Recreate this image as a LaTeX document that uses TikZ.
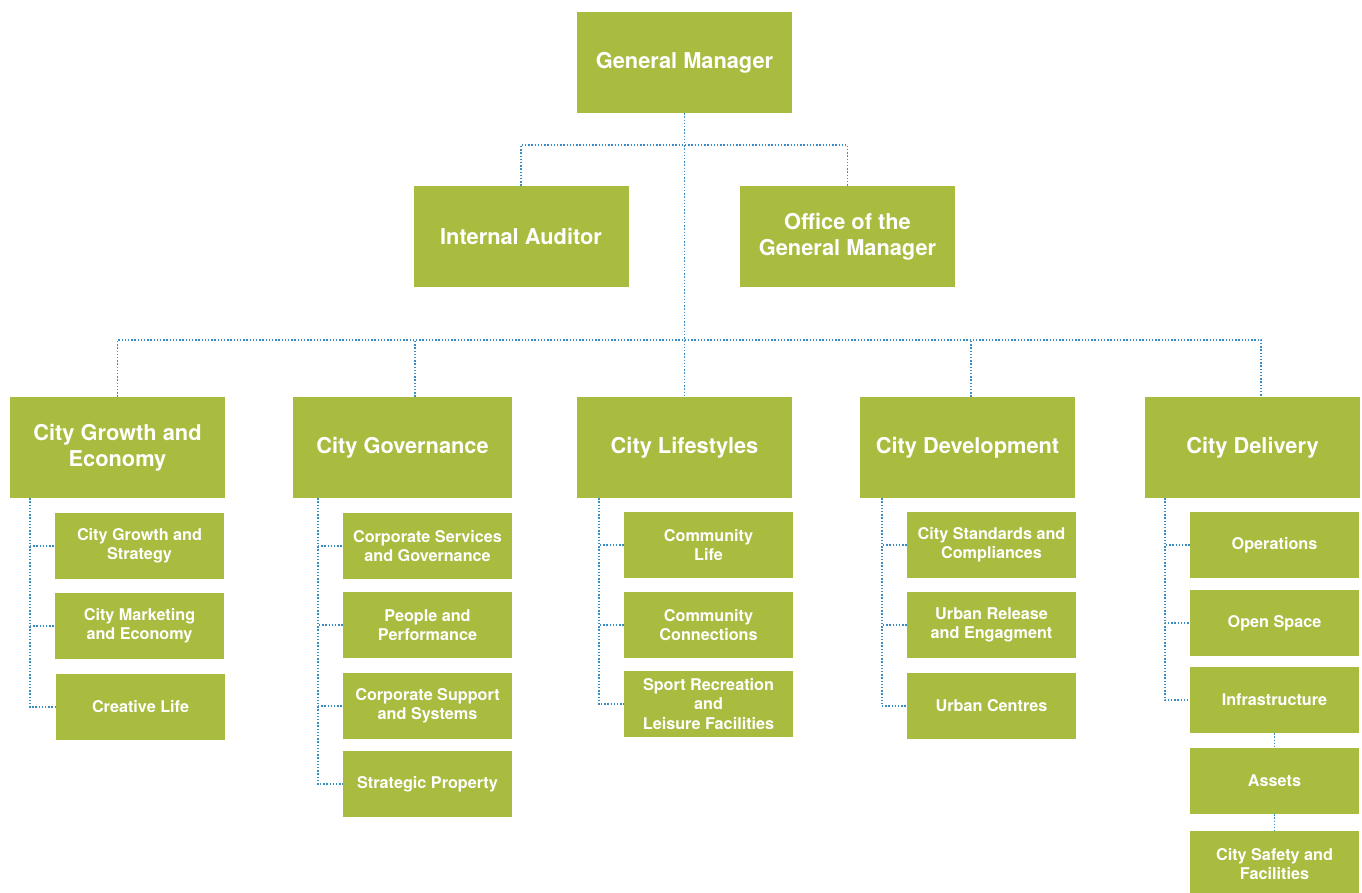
\documentclass[tikz,border=0pt]{standalone}
\usepackage{fontspec}
\setmainfont{TeX Gyre Heros}
\definecolor{leaf}{HTML}{A9BC40}
\definecolor{dotblue}{HTML}{3A8CC6}

\begin{document}
\begin{tikzpicture}[x=1pt,y=-1pt,
    bnode/.style={fill=leaf, text=white, align=center, inner sep=0pt, minimum width=215pt, minimum height=101pt, font=\bfseries\fontsize{21.8}{26}\selectfont},
    snode/.style={fill=leaf, text=white, align=center, inner sep=0pt, minimum width=169pt, minimum height=66pt, font=\bfseries\fontsize{16.2}{19.3}\selectfont},
    link/.style={draw=dotblue, line width=1.6pt, dash pattern=on 1.4pt off 1.8pt}]
    \useasboundingbox (0,0) rectangle (1362,892);

    % top of the chart
    \node[bnode] (gm) at (684.5,62.5) {General Manager};
    \node[bnode] (ia) at (521,236.5) {Internal Auditor};
    \node[bnode] (ogm) at (847.5,236.5) {Office of the\\General Manager};

    % directorates
    \node[bnode] (cge) at (117.5,447.5) {City Growth and\\Economy};
    \node[bnode, minimum width=219pt] (cgov) at (402.5,447.5) {City Governance};
    \node[bnode] (clif) at (684.5,447.5) {City Lifestyles};
    \node[bnode] (cdev) at (967.5,447.5) {City Development};
    \node[bnode] (cdel) at (1252.5,447.5) {City Delivery};

    % units
    \node[snode] (g1) at (139.5,546) {City Growth and\\Strategy};
    \node[snode] (g2) at (139.5,626) {City Marketing\\and Economy};
    \node[snode] (g3) at (140.5,707) {Creative Life};

    \node[snode] (v1) at (427.5,546) {Corporate Services\\and Governance};
    \node[snode] (v2) at (427.5,625) {People and\\Performance};
    \node[snode] (v3) at (427.5,706) {Corporate Support\\and Systems};
    \node[snode] (v4) at (427.5,784) {Strategic Property};

    \node[snode] (l1) at (708.5,545) {Community\\Life};
    \node[snode] (l2) at (708.5,625) {Community\\Connections};
    \node[snode] (l3) at (708.5,704) {Sport Recreation\\and\\Leisure Facilities};

    \node[snode] (d1) at (991.5,545) {City Standards and\\Compliances};
    \node[snode] (d2) at (991.5,625) {Urban Release\\and Engagment};
    \node[snode] (d3) at (991.5,706) {Urban Centres};

    \node[snode] (e1) at (1274.5,545) {Operations};
    \node[snode] (e2) at (1274.5,623) {Open Space};
    \node[snode] (e3) at (1274.5,700) {Infrastructure};
    \node[snode] (e4) at (1274.5,781) {Assets};
    \node[snode] (e5) at (1274.5,864) {City Safety and\\Facilities};

    % dotted connectors
    \coordinate (j1) at (684.5,145);
    \coordinate (j2) at (684.5,340);
    \draw[link] (gm) -- (clif);
    \draw[link] (ia.north) |- (j1) -| (ogm.north);
    \draw[link] (cge.north) |- (j2) -| ([xshift=8.5]cdel.north);
    \draw[link] ([xshift=12.5]cgov.north) -- ([xshift=12.5]cgov.north |- j2);
    \draw[link] ([xshift=3.5]cdev.north) -- ([xshift=3.5]cdev.north |- j2);

    \foreach \u in {g1,g2,g3} \draw[link] ([xshift=20]cge.south west) |- (\u.west);
    \foreach \u in {v1,v2,v3,v4} \draw[link] ([xshift=25]cgov.south west) |- (\u.west);
    \foreach \u in {l1,l2,l3} \draw[link] ([xshift=22]clif.south west) |- (\u.west);
    \foreach \u in {d1,d2,d3} \draw[link] ([xshift=22]cdev.south west) |- (\u.west);
    \foreach \u in {e1,e2,e3} \draw[link] ([xshift=20]cdel.south west) |- (\u.west);
    \draw[link] (e3) -- (e4);
    \draw[link] (e4) -- (e5);
\end{tikzpicture}
\end{document}
